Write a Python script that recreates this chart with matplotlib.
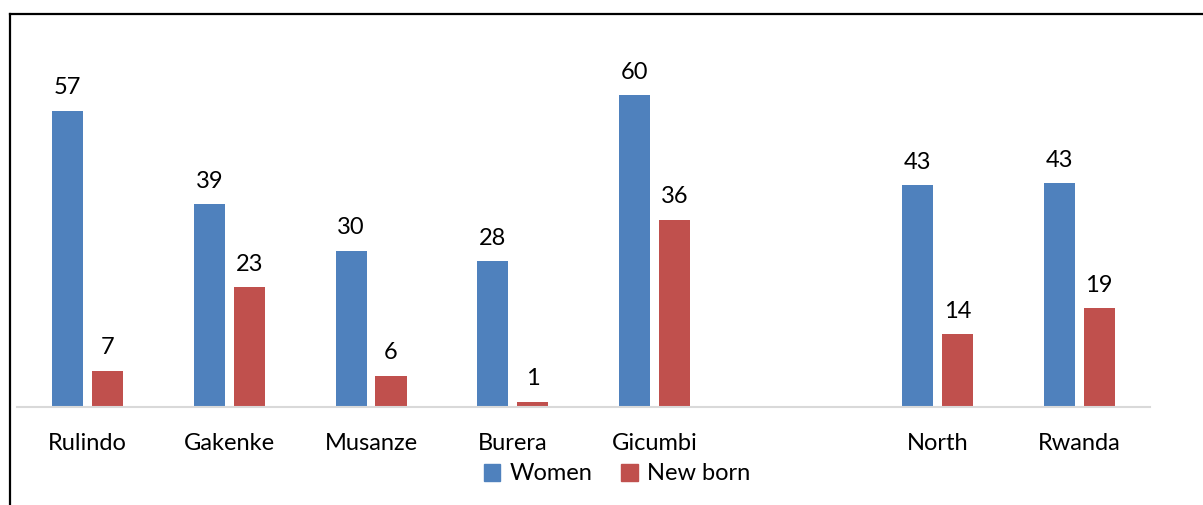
import matplotlib
matplotlib.use("Agg")
import matplotlib.pyplot as plt
from matplotlib.lines import Line2D
import numpy as np

categories = ["Rulindo", "Gakenke", "Musanze", "Burera", "Gicumbi", "", "North", "Rwanda"]
women = [57, 39, 30, 28, 60, None, 42.6, 43]
newborn = [7, 23, 6, 1, 36, None, 14, 19]
women_labels = ["57", "39", "30", "28", "60", "", "43", "43"]
newborn_labels = ["7", "23", "6", "1", "36", "", "14", "19"]
series_names = ["Women", "New born"]

plt.rcParams['font.family'] = ['Lato', 'DejaVu Sans']
W, H = 1203, 505
fig = plt.figure(figsize=(W / 100, H / 100), dpi=100)

ax_left, ax_right, ax_bottom = 17, 1150, 407
px_per_unit = 5.2
ymax = 70
ax = fig.add_axes([ax_left / W, (H - ax_bottom) / H, (ax_right - ax_left) / W, ymax * px_per_unit / H])

blue = "#4F81BD"
red = "#C0504D"
x = np.arange(len(categories))
bw = 0.22
off = 0.141
for i in range(len(categories)):
    if women[i] is None:
        continue
    ax.bar(x[i] - off, women[i], bw, color=blue)
    ax.bar(x[i] + off, newborn[i], bw, color=red)
    ax.annotate(women_labels[i], (x[i] - off, women[i]), xytext=(0, 9), textcoords="offset points",
                ha="center", va="bottom", fontsize=17, color="black")
    ax.annotate(newborn_labels[i], (x[i] + off, newborn[i]), xytext=(0, 9), textcoords="offset points",
                ha="center", va="bottom", fontsize=17, color="black")

ax.set_xlim(-0.5, len(categories) - 0.5)
ax.set_ylim(0, ymax)
ax.set_xticks(x)
ax.set_xticklabels(categories, fontsize=17)
ax.tick_params(axis="x", length=0, pad=19)
ax.set_yticks([])
for s in ["top", "right", "left"]:
    ax.spines[s].set_visible(False)
ax.spines["bottom"].set_color("#D9D9D9")
ax.spines["bottom"].set_linewidth(1.5)

handles = [plt.Rectangle((0, 0), 1, 1, color=blue), plt.Rectangle((0, 0), 1, 1, color=red)]
fig.legend(handles, series_names, loc="center", bbox_to_anchor=(617 / W, 1 - 474 / H),
           ncol=2, frameon=False, fontsize=17, handlelength=0.7, handleheight=0.7,
           handletextpad=0.4, columnspacing=1.2)

# outer frame (left and top edges visible)
fig.add_artist(Line2D([10 / W, 10 / W], [0, 1 - 14 / H], color="black", lw=1.6, transform=fig.transFigure))
fig.add_artist(Line2D([10 / W, 1], [1 - 14 / H, 1 - 14 / H], color="black", lw=1.6, transform=fig.transFigure))

fig.savefig("out.png", dpi=100)
